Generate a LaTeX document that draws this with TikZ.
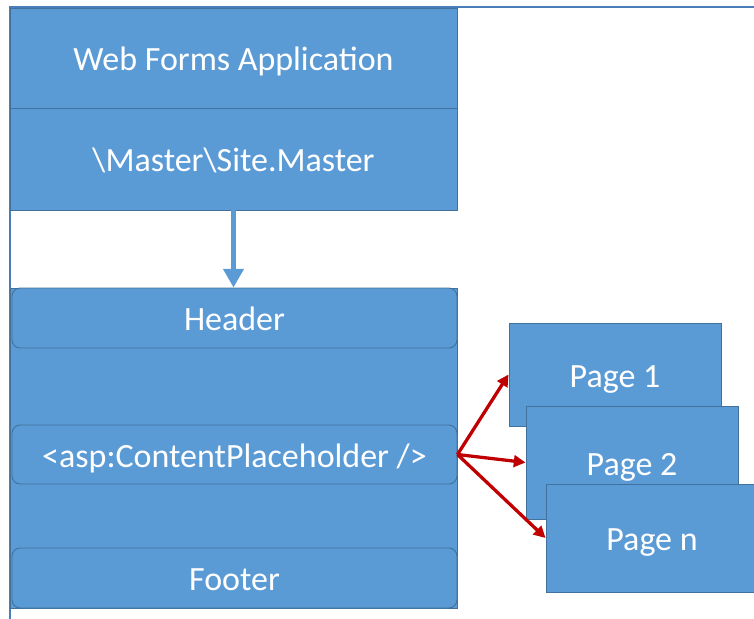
\documentclass[tikz,border=0pt]{standalone}
\usepackage{fontspec}
\setmainfont{Carlito}
\usetikzlibrary{arrows.meta}

\definecolor{boxfill}{HTML}{5B9BD5}
\definecolor{boxline}{HTML}{41719C}
\definecolor{frameline}{HTML}{4A7EBB}
\definecolor{linkred}{HTML}{C00000}

\tikzset{
	box/.style={draw=boxline, fill=boxfill, line width=0.8pt, text=white, font=\fontsize{29}{33}\selectfont, inner sep=0pt, text height=26pt, text depth=4pt},
	roundbox/.style={box, rounded corners=7pt},
	link/.style={draw=linkred, line width=2.8pt, -{Triangle[length=10pt, width=10pt]}}
}

\begin{document}
\begin{tikzpicture}[x=0.03cm, y=-0.03cm]
	\clip (0,0) rectangle (754,619);

	% frame of the slide
	\coordinate (TL) at (10,7);
	\coordinate (TR) at (754,7);
	\coordinate (BL) at (10,619);
	\draw [frameline, line width=1.2pt] (TR) -- (TL) -- (BL);

	% application and its master file
	\node [box, minimum width=447*0.03cm, minimum height=100*0.03cm] (app) at (233.5,58) {Web Forms Application};
	\node [box, minimum width=447*0.03cm, minimum height=102*0.03cm] (site) at (233.5,159) {\textbackslash Master\textbackslash Site.Master};

	% master page layout
	\node [box, minimum width=447*0.03cm, minimum height=320*0.03cm] (master) at (233.5,448) {};
	\node [roundbox, minimum width=445*0.03cm, minimum height=60*0.03cm] (header) at (234.5,318) {Header};
	\node [roundbox, minimum width=445*0.03cm, minimum height=59*0.03cm] (holder) at (234.5,454.5) {<asp:ContentPlaceholder />};
	\node [roundbox, minimum width=445*0.03cm, minimum height=60*0.03cm] (footer) at (234.5,578) {Footer};

	\draw [boxfill, line width=4pt, -{Triangle[length=16pt, width=17pt]}] (site.south) -- (master.north);

	% content pages
	\node [box, minimum width=212*0.03cm, minimum height=103*0.03cm] (page1) at (615,374.5) {Page 1};
	\node [box, minimum width=212*0.03cm, minimum height=113*0.03cm] (page2) at (632,462.5) {Page 2};
	\node [box, minimum width=212*0.03cm, minimum height=108*0.03cm] (pagen) at (652,538) {Page n};

	\draw [link] (holder.east) -- (page1.west);
	\draw [link] (holder.east) -- (page2.west);
	\draw [link] (holder.east) -- (pagen.west);
\end{tikzpicture}
\end{document}
